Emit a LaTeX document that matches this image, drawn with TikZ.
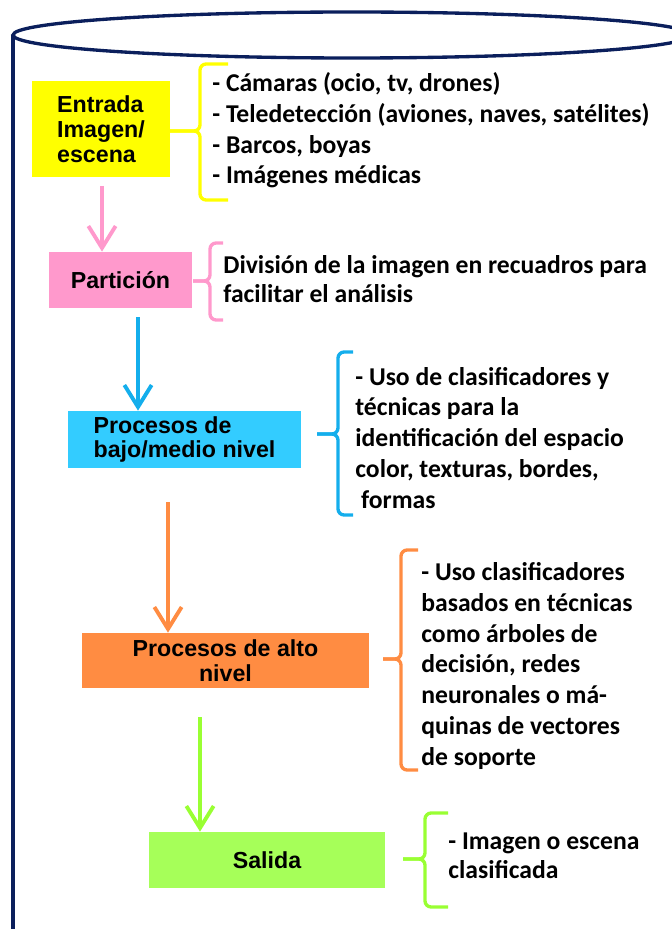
\documentclass[tikz,border=0pt]{standalone}
\usepackage{fontspec}
\setmainfont{Carlito}
\newfontfamily\boxfont{Liberation Sans}
\usetikzlibrary{arrows.meta,positioning}
\definecolor{marino}{HTML}{0B1F5C}
\definecolor{amarillo}{HTML}{FFFF00}
\definecolor{rosa}{HTML}{FF99CC}
\definecolor{celeste}{HTML}{33CCFF}
\definecolor{azul}{HTML}{14AEEC}
\definecolor{naranja}{HTML}{FF8C42}
\definecolor{verdeclaro}{HTML}{A6FF59}
\definecolor{verde}{HTML}{99FF33}
\begin{document}
\begin{tikzpicture}[x=0.02cm,y=-0.02cm,
  caja/.style={inner sep=0pt, align=left, font=\boxfont\bfseries\fontsize{13.2}{14.2}\selectfont},
  lista/.style={anchor=base west, inner sep=0pt, align=left, font=\bfseries\fontsize{14.6}{17.5}\selectfont},
  flecha/.style={line width=2.2pt, -{Straight Barb[length=12.5pt,width=15.5pt,line width=2.2pt]}},
  llave/.style={line width=1.9pt, rounded corners=3.5pt}]
\useasboundingbox (0,0) rectangle (672,929);
\clip (0,0) rectangle (672,929);
% cilindro
\draw [marino, line width=1.9pt] (352,35) ellipse [x radius=339, y radius=23];
\draw [marino, line width=2.1pt] (13,35) -- (13,940);
% cajas
\node (entrada) [caja, fill=amarillo, minimum width=2.76cm, minimum height=1.92cm] at (101,129) {Entrada\\Imagen/\\escena};
\node (particion) [caja, fill=rosa, minimum width=2.86cm, minimum height=1.12cm] at (120.5,280) {Partición};
\node (bajo) [caja, fill=celeste, minimum width=4.66cm, minimum height=1.14cm] at (184.5,439.5) {Procesos de\\bajo/medio nivel};
\node (alto) [caja, fill=naranja, minimum width=5.74cm, minimum height=1.1cm, align=center] at (225.5,660.5) {Procesos de alto\\nivel};
\node (salida) [caja, fill=verdeclaro, minimum width=4.72cm, minimum height=1.12cm] at (267,860) {Salida};
% flechas
\coordinate (p1) at (102,186);
\coordinate (p2) at (138,317);
\coordinate (p3) at (168,502);
\coordinate (p4) at (200,717);
\draw [flecha, rosa] (p1) -- (p1 |- particion.north);
\draw [flecha, azul] (p2) -- (p2 |- bajo.north);
\draw [flecha, naranja] (p3) -- (p3 |- alto.north);
\draw [flecha, verde] (p4) -- (p4 |- salida.north);
% llaves
\draw [llave, amarillo] (228,64) -- (200,64) -- (200,131) -- (170,131);
\draw [llave, amarillo] (170,131) -- (200,131) -- (200,200) -- (228,200);
\draw [llave, rosa] (223,243) -- (210,243) -- (210,281) -- (193,281);
\draw [llave, rosa] (193,281) -- (210,281) -- (210,320) -- (223,320);
\draw [llave, azul] (353,352) -- (338,352) -- (338,434) -- (317,434);
\draw [llave, azul] (317,434) -- (338,434) -- (338,515) -- (353,515);
\draw [llave, naranja] (418,550) -- (401,550) -- (401,659) -- (383,659);
\draw [llave, naranja] (383,659) -- (401,659) -- (401,770) -- (418,770);
\draw [llave, verde] (448,813) -- (425,813) -- (425,859) -- (403,859);
\draw [llave, verde] (403,859) -- (425,859) -- (425,907) -- (448,907);
% textos
\node (t1) [lista] at (212,184) {- Cámaras (ocio, tv, drones)\\- Teledetección (aviones, naves, satélites)\\- Barcos, boyas\\- Imágenes médicas};
\node (t2) [lista, font=\bfseries\fontsize{14.6}{16.4}\selectfont] at (223,302) {División de la imagen en recuadros para\\facilitar el análisis};
\node (t3) [lista] at (355,508) {- Uso de clasificadores y\\técnicas para la\\identificación del espacio\\color, texturas, bordes,\\\ formas};
\node (t4) [lista] at (421,765) {- Uso clasificadores\\basados en técnicas\\como árboles de\\decisión, redes\\neuronales o má-\\quinas de vectores\\de soporte};
\node (t5) [lista, font=\bfseries\fontsize{14.6}{16}\selectfont] at (448,878) {- Imagen o escena\\clasificada};
\end{tikzpicture}
\end{document}
